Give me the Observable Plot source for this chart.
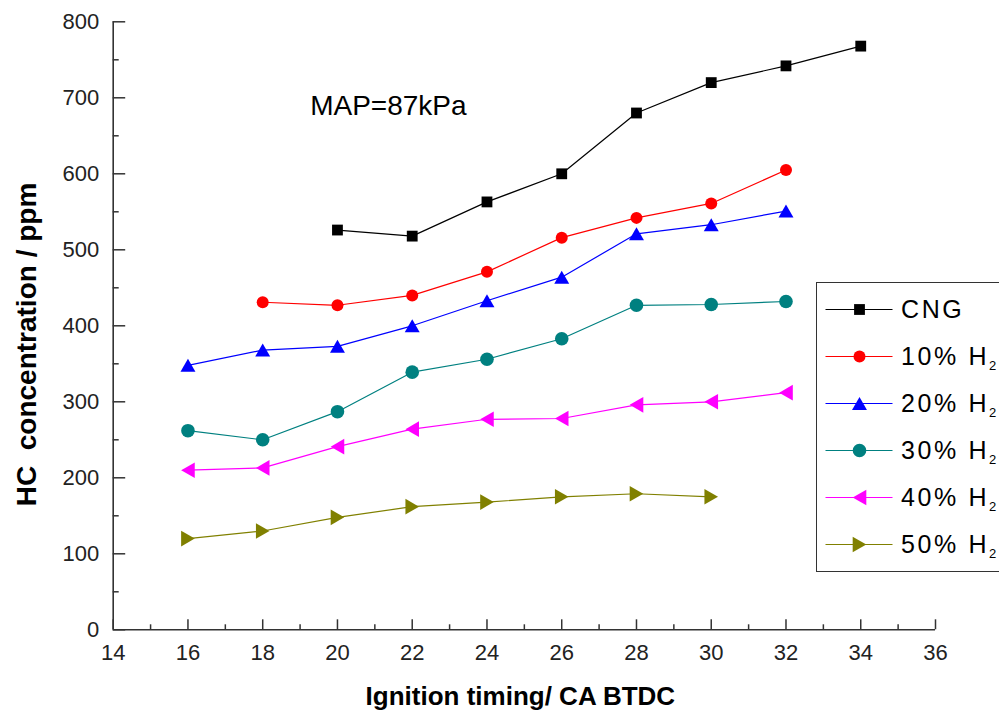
<!DOCTYPE html>
<html><head><meta charset="utf-8">
<script src="https://cdn.jsdelivr.net/npm/d3@7"></script>
<script src="https://cdn.jsdelivr.net/npm/@observablehq/plot@0.6"></script>
<style>
html,body{margin:0;padding:0;background:#fff;overflow:hidden;width:999px;height:716px}
#wrap{position:relative;width:999px;height:716px;overflow:hidden;background:#fff}
#legend{position:absolute;left:816px;top:282px;width:220px;height:290px;border:1.5px solid #333;background:#fff;box-sizing:border-box;font-family:"Liberation Sans",Arial,sans-serif}
.row{position:absolute;left:0;height:47px;width:220px}
.row svg{position:absolute;left:0;top:0}
.row span{position:absolute;left:84px;top:0;line-height:47px;font-size:25px;letter-spacing:2.6px;color:#000;white-space:nowrap}
.row sub{font-size:13px;letter-spacing:0;vertical-align:-5px;line-height:0}
</style></head><body><div id="wrap"></div>
<script>
// ---- data ----
const xTicksMajor = [14, 16, 18, 20, 22, 24, 26, 28, 30, 32, 34, 36];
const xTicksMinor = [15, 17, 19, 21, 23, 25, 27, 29, 31, 33, 35];
const yTicksMajor = [0, 100, 200, 300, 400, 500, 600, 700, 800];
const yTicksMinor = [50, 150, 250, 350, 450, 550, 650, 750];

const seriesNames = ["CNG", "10% H2", "20% H2", "30% H2", "40% H2", "50% H2"];
const seriesColors = ["#000000", "#ff0000", "#0000ff", "#008080", "#ff00ff", "#808000"];

const cngX = [20, 22, 24, 26, 28, 30, 32, 34];
const cngY = [526, 518, 563, 600, 680, 720, 742, 768];
const h10X = [18, 20, 22, 24, 26, 28, 30, 32];
const h10Y = [431, 427, 440, 471, 516, 542, 561, 605];
const h20X = [16, 18, 20, 22, 24, 26, 28, 30, 32];
const h20Y = [348, 368, 373, 400, 433, 464, 521, 533, 551];
const h30X = [16, 18, 20, 22, 24, 26, 28, 30, 32];
const h30Y = [262, 250, 287, 339, 356, 383, 427, 428, 432];
const h40X = [16, 18, 20, 22, 24, 26, 28, 30, 32];
const h40Y = [210, 213, 241, 264, 277, 278, 296, 300, 312];
const h50X = [16, 18, 20, 22, 24, 26, 28, 30];
const h50Y = [120, 130, 148, 162, 168, 175, 179, 175];

const annotation = {x: 19.27, y: 689, label: "MAP=87kPa"};
const xTitle = "Ignition timing/ CA BTDC";
const yTitle = "HC  concentration / ppm";

// ---- symbols ----
function tri(dir) {
  return {draw(ctx, size) {
    const r = Math.sqrt(size / Math.PI), a = r * 1.15, b = r;
    if (dir === "up") { ctx.moveTo(0, -b); ctx.lineTo(a, b); ctx.lineTo(-a, b); }
    else if (dir === "left") { ctx.moveTo(-b, 0); ctx.lineTo(b, -a); ctx.lineTo(b, a); }
    else { ctx.moveTo(b, 0); ctx.lineTo(-b, -a); ctx.lineTo(-b, a); }
    ctx.closePath();
  }};
}
const symbols = [d3.symbolSquare, d3.symbolCircle, tri("up"), d3.symbolCircle, tri("left"), tri("right")];
const radii = [6.1, 6, 6.5, 6.8, 6.8, 6.8];

const xs = [cngX, h10X, h20X, h30X, h40X, h50X];
const ys = [cngY, h10Y, h20Y, h30Y, h40Y, h50Y];
const seriesData = seriesNames.map((name, i) => xs[i].map((x, j) => ({series: name, x, y: ys[i][j]})));

const W = 999, H = 716, mL = 112.7, mR = 64, mT = 21.3, mB = 86.7;
const plotH = H - mT - mB, plotW = W - mL - mR;

const marks = [];
seriesData.forEach((d, i) => {
  marks.push(Plot.line(d, {x: "x", y: "y", stroke: seriesColors[i], strokeWidth: 1.2}));
});
seriesData.forEach((d, i) => {
  marks.push(Plot.dot(d, {x: "x", y: "y", symbol: symbols[i], r: radii[i], fill: seriesColors[i], stroke: "none"}));
});

const axisColor = "#333";
marks.push(
  Plot.ruleY([0], {stroke: axisColor, strokeWidth: 1.6}),
  Plot.ruleX([14], {stroke: axisColor, strokeWidth: 1.6}),
  Plot.tickX(xTicksMajor, {x: d => d, insetTop: plotH - 10, stroke: axisColor, strokeWidth: 1.5}),
  Plot.tickX(xTicksMinor, {x: d => d, insetTop: plotH - 5, stroke: axisColor, strokeWidth: 1.5}),
  Plot.tickY(yTicksMajor, {y: d => d, insetRight: plotW - 12.5, stroke: axisColor, strokeWidth: 1.5}),
  Plot.tickY(yTicksMinor, {y: d => d, insetRight: plotW - 6, stroke: axisColor, strokeWidth: 1.5}),
  Plot.text(xTicksMajor, {x: d => d, text: d => String(d), frameAnchor: "bottom", dy: 23, textAnchor: "middle", lineAnchor: "middle", fontSize: 22, fill: "#222", ariaLabel: "ticklabel"}),
  Plot.text(yTicksMajor, {y: d => d, text: d => String(d), frameAnchor: "left", dx: -14, textAnchor: "end", lineAnchor: "middle", fontSize: 22, fill: "#222", ariaLabel: "ticklabel"}),
  Plot.text([annotation], {x: "x", y: "y", text: "label", textAnchor: "start", lineAnchor: "middle", fontSize: 28, fill: "#000", ariaLabel: "annot"}),
  Plot.text([xTitle], {text: d => d, frameAnchor: "bottom", dy: 67, dx: -4, textAnchor: "middle", lineAnchor: "middle", fontSize: 26, fontWeight: "bold", fill: "#000", ariaLabel: "xtitle"}),
  Plot.text([yTitle], {text: d => d, frameAnchor: "left", rotate: -90, dx: -86.5, dy: 18.7, textAnchor: "middle", lineAnchor: "middle", fontSize: 28, fontWeight: "bold", fill: "#000", ariaLabel: "ytitle"})
);

const chart = Plot.plot({
  width: W, height: H,
  marginLeft: mL, marginRight: mR, marginTop: mT, marginBottom: mB,
  x: {domain: [14, 36], axis: null},
  y: {domain: [0, 800], axis: null},
  style: {fontFamily: "'Liberation Sans', Arial, sans-serif", background: "#fff", overflow: "visible"},
  marks
});

const sel = d3.select(chart);
sel.selectAll('g[aria-label="ticklabel"] text').style("letter-spacing", "0.8px");
sel.selectAll('g[aria-label="annot"] text').style("letter-spacing", "2.2px");
sel.selectAll('g[aria-label="xtitle"] text').style("letter-spacing", "1.8px").style("white-space", "pre");
sel.selectAll('g[aria-label="ytitle"] text').style("white-space", "pre");

const wrap = document.getElementById("wrap");
wrap.appendChild(chart);

// ---- legend ----
const legend = document.createElement("div");
legend.id = "legend";
wrap.appendChild(legend);
seriesNames.forEach((name, i) => {
  const row = document.createElement("div");
  row.className = "row";
  row.style.top = (3 + 47 * i) + "px";
  const svg = d3.create("svg").attr("width", 80).attr("height", 47);
  svg.append("line").attr("x1", 8.5).attr("x2", 75.5).attr("y1", 23.5).attr("y2", 23.5)
    .attr("stroke", seriesColors[i]).attr("stroke-width", 1.2);
  svg.append("path").attr("transform", "translate(42.5,23.5)")
    .attr("d", d3.symbol().type(symbols[i]).size(radii[i] * radii[i] * Math.PI)())
    .attr("fill", seriesColors[i]);
  row.appendChild(svg.node());
  const span = document.createElement("span");
  if (name.endsWith("H2")) {
    span.innerHTML = name.slice(0, -1) + "<sub>2</sub>";
  } else {
    span.textContent = name;
  }
  row.appendChild(span);
  legend.appendChild(row);
});
</script>
</body></html>
